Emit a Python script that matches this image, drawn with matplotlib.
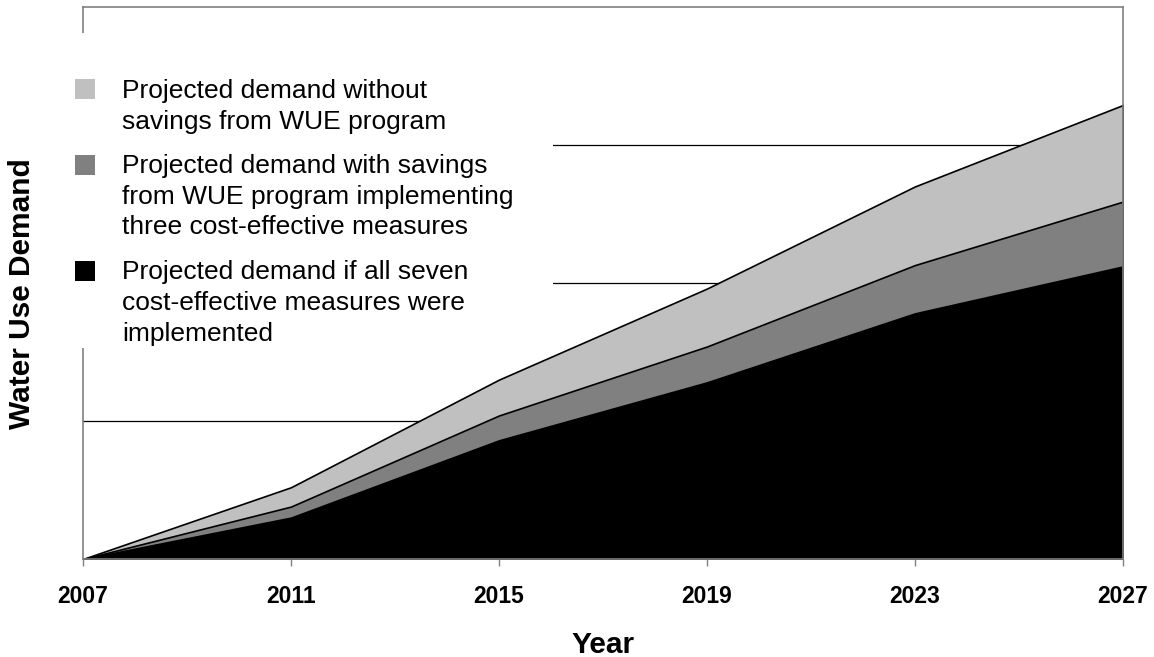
import matplotlib
matplotlib.use("Agg")
import matplotlib.pyplot as plt
from matplotlib.patches import Rectangle

plt.rcParams['font.family'] = ['Liberation Sans', 'DejaVu Sans']

# data (cumulative demand, arbitrary units)
years = [2007, 2011, 2015, 2019, 2023, 2027]
demand_no_wue = [0.0, 0.52, 1.30, 1.96, 2.70, 3.29]
demand_three_measures = [0.0, 0.38, 1.04, 1.54, 2.13, 2.59]
demand_seven_measures = [0.0, 0.30, 0.86, 1.28, 1.78, 2.12]

labels = ['Projected demand without\nsavings from WUE program',
          'Projected demand with savings\nfrom WUE program implementing\nthree cost-effective measures',
          'Projected demand if all seven\ncost-effective measures were\nimplemented']
colors = ['#c0c0c0', '#808080', '#000000']

W, H = 1154, 657
fig = plt.figure(figsize=(W / 100, H / 100), dpi=100)
ax = fig.add_axes([83 / W, (H - 559) / H, 1040 / W, 552 / H])


def px(x, y):
    return x / W, 1 - y / H


for vals, c in zip([demand_no_wue, demand_three_measures, demand_seven_measures], colors):
    ax.fill_between(years, 0, vals, facecolor=c, edgecolor='black', linewidth=1.2, zorder=2)

ax.set_xlim(2007, 2027)
ax.set_ylim(0, 4)
ax.set_xticks(years)
ax.set_xticklabels([str(y) for y in years], fontsize=16.5, fontweight='bold')
ax.set_yticks([1, 2, 3])
ax.set_yticklabels([])
ax.tick_params(axis='y', length=0)
ax.tick_params(axis='x', length=5, width=1, color='#808080', pad=14)
ax.grid(axis='y', color='black', linewidth=0.9, zorder=1)
ax.set_axisbelow(True)
for s in ax.spines.values():
    s.set_color('#808080')
    s.set_linewidth(1.2)

ax.set_xlabel('Year', fontsize=21.5, fontweight='bold', labelpad=16)
fig.text(22 / W, 1 - 294 / H, 'Water Use Demand', rotation=90, fontsize=21.5,
         fontweight='bold', ha='center', va='center')

# legend box drawn at figure level so it hides gridlines and spine
fig.patches.append(Rectangle(px(60, 348), (553 - 60) / W, (348 - 33) / H,
                             transform=fig.transFigure, facecolor='white',
                             edgecolor='none', zorder=3))
first_centers = [89, 165, 271]
line_step = 30
for lab, c, yc in zip(labels, colors, first_centers):
    fig.patches.append(Rectangle(px(75, yc + 10), 20 / W, 20 / H,
                                 transform=fig.transFigure, facecolor=c,
                                 edgecolor='none', zorder=4))
    # multiline va='baseline' anchors the last line
    last = yc + 9.5 + line_step * lab.count('\n')
    x0, y0 = px(122, last)
    fig.text(x0, y0, lab, fontsize=19, ha='left', va='baseline',
             linespacing=1.366, zorder=4)

fig.savefig('out.png', dpi=100)
